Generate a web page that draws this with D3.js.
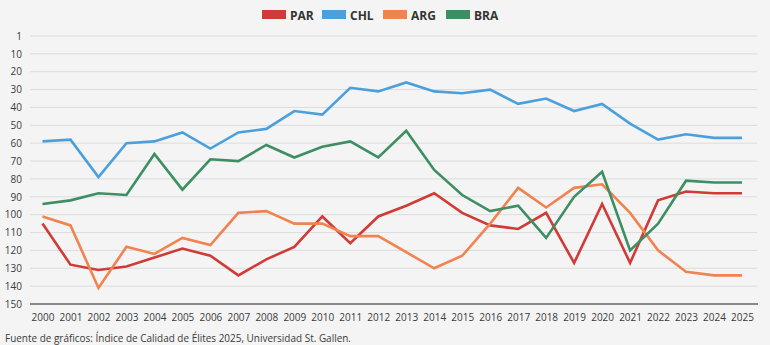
<!DOCTYPE html>
<html>
<head>
    <title></title>
    <script src="https://cdn.jsdelivr.net/npm/d3@7"></script>
    <style>
        body{ margin:0; background:#f4f4f4; }
        text{ font-family: "Open Sans", sans-serif; }
        .tick text{ font-size: 10px; fill: #3a3a3a; }
        .legend text{ font-size: 12px; font-weight: 700; fill: #333; }
        .source{ font-size: 10.5px; fill: #3a3a3a; }
    </style>
</head>
<body>
<script type="text/javascript">

    var years = d3.range(2000, 2026),
        yTicks = [0, 10, 20, 30, 40, 50, 60, 70, 80, 90, 100, 110, 120, 130, 140, 150];

    var par = [105, 128, 131, 129, 124, 119, 123, 134, 125, 118, 101, 116, 101, 95, 88, 99, 106, 108, 99, 127, 94, 127, 92, 87, 88, 88];
    var chl = [59, 58, 79, 60, 59, 54, 63, 54, 52, 42, 44, 29, 31, 26, 31, 32, 30, 38, 35, 42, 38, 49, 58, 55, 57, 57];
    var arg = [101, 106, 141, 118, 122, 113, 117, 99, 98, 105, 105, 112, 112, 121, 130, 123, 105, 85, 96, 85, 83, 99, 120, 132, 134, 134];
    var bra = [94, 92, 88, 89, 66, 86, 69, 70, 61, 68, 62, 59, 68, 53, 75, 89, 98, 95, 113, 90, 76, 120, 105, 81, 82, 82];

    var seriesNames = ["PAR", "CHL", "ARG", "BRA"],
        colors = ["#d13b36", "#4ba0dc", "#f0834f", "#3d8f63"],
        series = [par, chl, arg, bra];

    var w = 770, h = 345;

    var svg = d3.select("body")
            .append("svg")
            .attr("width", w)
            .attr("height", h);

    var x = d3.scaleLinear().domain([2000, 2025]).range([42.5, 742]);
    var y = d3.scaleLinear().domain([0, 150]).range([36, 304]);

    // gridlines
    svg.append("g")
            .selectAll("line")
            .data(yTicks.slice(0, -1))
            .enter()
            .append("line")
            .attr("x1", 30)
            .attr("x2", 757)
            .attr("y1", function(d){ return y(d); })
            .attr("y2", function(d){ return y(d); })
            .attr("stroke", "#dcdcdc")
            .attr("stroke-width", 1);

    // y labels, first one reads "1"
    var yAxis = svg.append("g")
            .attr("transform", "translate(22,0)")
            .call(d3.axisLeft(y).tickValues(yTicks).tickSize(0).tickPadding(0)
                .tickFormat(function(d){ return d === 0 ? "1" : d; }));
    yAxis.select(".domain").remove();

    // bottom line
    svg.append("line")
            .attr("x1", 30).attr("x2", 758)
            .attr("y1", y(150)).attr("y2", y(150))
            .attr("stroke", "#666").attr("stroke-width", 1.5);

    var xAxis = svg.append("g")
            .attr("transform", "translate(0," + (y(150) + 9) + ")")
            .call(d3.axisBottom(x).tickValues(years).tickSize(0).tickPadding(0)
                .tickFormat(d3.format("d")));
    xAxis.select(".domain").remove();
    xAxis.selectAll("text").attr("dy", "0.8em");

    var line = d3.line()
            .x(function(d, i){ return x(years[i]); })
            .y(function(d){ return y(d); });

    svg.append("g")
            .selectAll("path")
            .data(series)
            .enter()
            .append("path")
            .attr("d", line)
            .attr("fill", "none")
            .attr("stroke", function(d, i){ return colors[i]; })
            .attr("stroke-width", 2.6)
            .attr("stroke-linejoin", "miter");

    // legend
    var legendX = [262, 322, 383, 446];
    var legend = svg.append("g").attr("class", "legend")
            .selectAll("g")
            .data(seriesNames)
            .enter()
            .append("g")
            .attr("transform", function(d, i){ return "translate(" + legendX[i] + ",10)"; });
    legend.append("rect")
            .attr("width", 24).attr("height", 9)
            .attr("fill", function(d, i){ return colors[i]; });
    legend.append("text")
            .attr("x", 28).attr("y", 9.5)
            .text(function(d){ return d; });

    svg.append("text")
            .attr("class", "source")
            .attr("x", 5).attr("y", 342)
            .attr("textLength", 346)
            .attr("lengthAdjust", "spacingAndGlyphs")
            .text("Fuente de gráficos: Índice de Calidad de Élites 2025, Universidad St. Gallen.");
</script>
</body>
</html>
